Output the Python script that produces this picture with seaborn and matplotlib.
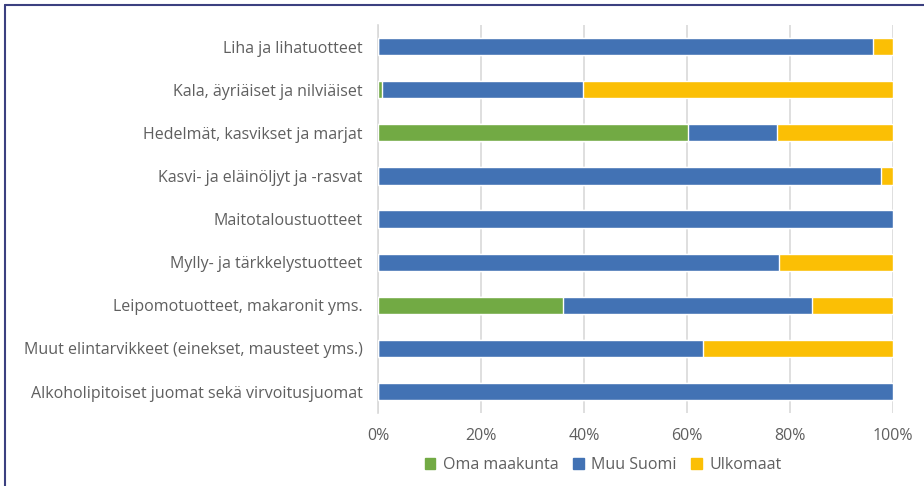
import numpy as np
import pandas as pd
import matplotlib.pyplot as plt
import seaborn as sns
from matplotlib.lines import Line2D
from matplotlib.patches import Patch
from matplotlib.ticker import PercentFormatter

categories = [
    "Liha ja lihatuotteet",
    "Kala, äyriäiset ja nilviäiset",
    "Hedelmät, kasvikset ja marjat",
    "Kasvi- ja eläinöljyt ja -rasvat",
    "Maitotaloustuotteet",
    "Mylly- ja tärkkelystuotteet",
    "Leipomotuotteet, makaronit yms.",
    "Muut elintarvikkeet (einekset, mausteet yms.)",
    "Alkoholipitoiset juomat sekä virvoitusjuomat",
]
oma_maakunta = [0.0, 0.7, 60.2, 0.0, 0.0, 0.0, 36.0, 0.0, 0.0]
muu_suomi = [96.2, 39.2, 17.3, 97.7, 100.0, 77.8, 48.2, 63.2, 100.0]
ulkomaat = [3.8, 60.1, 22.5, 2.3, 0.0, 22.2, 15.8, 36.8, 0.0]

series = ["Oma maakunta", "Muu Suomi", "Ulkomaat"]
colors = ["#72AA44", "#4272B4", "#FBBF05"]

df = pd.DataFrame({
    "kategoria": categories,
    "Oma maakunta": oma_maakunta,
    "Muu Suomi": muu_suomi,
    "Ulkomaat": ulkomaat,
})
# kumulatiiviset summat pinottuja palkkeja varten
cum = df[series].cumsum(axis=1)

sns.set_style("white")
plt.rcParams["font.family"] = ["Open Sans", "DejaVu Sans"]
text_col = "#5F5F5F"
fs = 11.5

fig = plt.figure(figsize=(9.24, 4.86), dpi=100)
ax = fig.add_axes([0.409, 0.150, 0.5575, 0.7986])

# piirretään suurimmasta pienimpään, jotta pienemmät jäävät päälle
for name, col in reversed(list(zip(series, colors))):
    sns.barplot(x=cum[name], y=df["kategoria"], orient="h", color=col,
                width=0.4, saturation=1, ax=ax, zorder=3)

ax.set_xlim(0, 100)
ax.set_ylim(8.5, -0.5)
ax.xaxis.set_major_formatter(PercentFormatter(decimals=0))
ax.set_xticks(np.arange(0, 101, 20))
ax.grid(axis="x", color="#D9D9D9", linewidth=1.2, zorder=0)
ax.set_axisbelow(True)
for s in ["top", "right", "bottom"]:
    ax.spines[s].set_visible(False)
ax.spines["left"].set_color("#D9D9D9")
ax.spines["left"].set_linewidth(1.2)
ax.set_xlabel("")
ax.set_ylabel("")
ax.tick_params(axis="both", length=0, labelsize=fs, labelcolor=text_col)
ax.tick_params(axis="x", pad=11)
ax.tick_params(axis="y", pad=11)

handles = [Patch(color=c, label=n) for n, c in zip(series, colors)]
leg = fig.legend(handles=handles, loc="center", bbox_to_anchor=(0.653, 0.043),
                 ncol=3, frameon=False, fontsize=fs, handlelength=0.65,
                 handleheight=0.65, handletextpad=0.5, columnspacing=0.9)
for t in leg.get_texts():
    t.set_color(text_col)

# kehys
fig.add_artist(Line2D([0.0055, 1.0], [0.990, 0.990], transform=fig.transFigure,
                      color="#3B4080", linewidth=1.5))
fig.add_artist(Line2D([0.0055, 0.0055], [0.0, 0.990], transform=fig.transFigure,
                      color="#3B4080", linewidth=1.5))

fig.savefig("out.png", dpi=100)
